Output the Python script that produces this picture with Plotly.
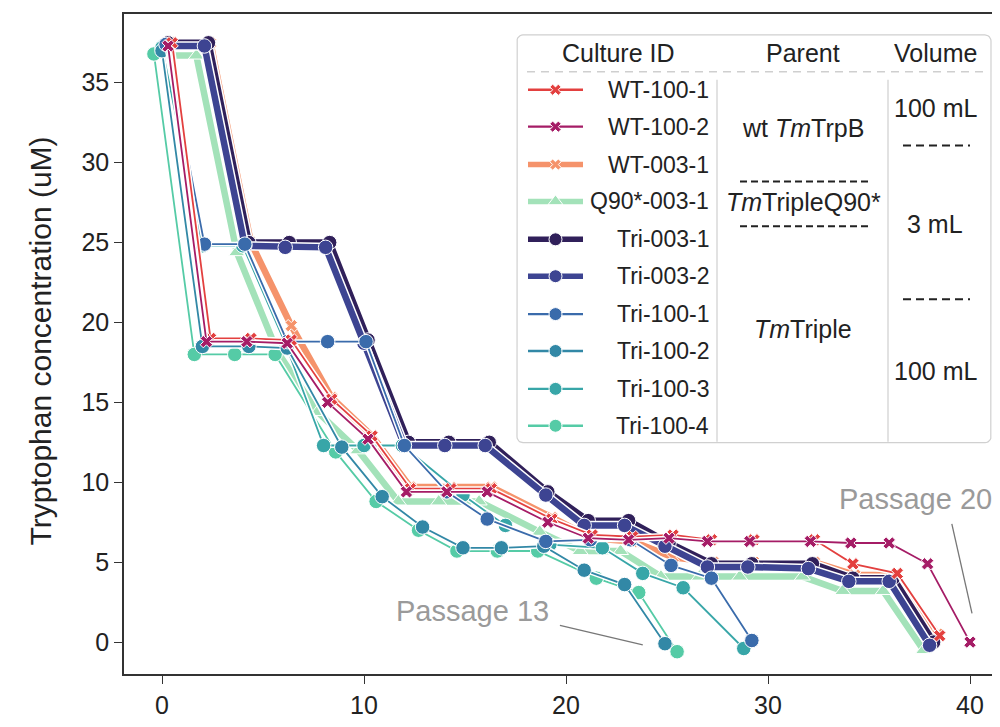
import math
import plotly.graph_objects as go

# ---------------- data ----------------
series_names = ["WT-100-1", "WT-100-2", "WT-003-1", "Q90*-003-1", "Tri-003-1",
                "Tri-003-2", "Tri-100-1", "Tri-100-2", "Tri-100-3", "Tri-100-4"]

wt_100_1_x = [0.5, 2.4, 4.4, 6.4, 8.4, 10.4, 12.3, 14.3, 16.3, 19.3, 21.3, 23.3, 25.3, 27.2, 29.3, 32.3, 34.2, 36.4, 38.5]
wt_100_1_y = [37.5, 19.0, 19.0, 18.9, 15.2, 12.9, 9.6, 9.6, 9.6, 7.7, 6.7, 6.6, 6.7, 6.4, 6.4, 6.4, 4.9, 4.3, 0.4]

wt_100_2_x = [0.3, 2.2, 4.2, 6.2, 8.2, 10.2, 12.1, 14.1, 16.1, 19.1, 21.1, 23.1, 25.1, 27.0, 29.1, 32.1, 34.1, 36.0, 37.9, 40.0]
wt_100_2_y = [37.3, 18.8, 18.8, 18.7, 15.0, 12.7, 9.4, 9.4, 9.4, 7.5, 6.5, 6.4, 6.5, 6.3, 6.3, 6.3, 6.2, 6.2, 4.9, 0.0]

wt_003_1_x = [0.4, 2.4, 4.4, 6.4, 8.4, 10.4, 12.3, 14.3, 16.3, 19.3, 21.3, 23.3, 25.3, 27.3, 29.3, 32.3, 34.3, 36.3, 38.4]
wt_003_1_y = [37.5, 37.5, 25.0, 19.8, 15.3, 12.9, 9.7, 9.7, 9.7, 7.8, 6.5, 6.3, 5.3, 5.0, 5.0, 5.0, 4.2, 4.2, 0.5]

q90_003_1_x = [-0.3, 1.7, 3.7, 5.7, 7.7, 9.7, 11.7, 13.7, 15.7, 18.7, 20.7, 22.7, 24.7, 26.6, 28.6, 31.7, 33.7, 35.7, 37.7]
q90_003_1_y = [36.7, 36.7, 24.4, 18.2, 14.4, 12.0, 8.8, 8.8, 8.8, 6.9, 5.7, 5.7, 4.1, 4.1, 4.1, 4.1, 3.2, 3.2, -0.5]

tri_003_1_x = [0.3, 2.3, 4.3, 6.3, 8.3, 10.2, 12.2, 14.2, 16.2, 19.1, 21.1, 23.1, 25.1, 27.2, 29.2, 32.2, 34.2, 36.2, 38.2]
tri_003_1_y = [37.5, 37.5, 25.0, 25.0, 25.0, 18.9, 12.5, 12.5, 12.5, 9.4, 7.6, 7.6, 6.2, 4.9, 4.9, 4.9, 4.0, 4.0, 0.0]

tri_003_2_x = [0.1, 2.1, 4.1, 6.1, 8.1, 10.0, 12.0, 14.0, 16.0, 19.0, 20.9, 22.9, 24.9, 27.0, 29.0, 32.0, 34.0, 36.0, 38.0]
tri_003_2_y = [37.3, 37.3, 24.8, 24.7, 24.7, 18.7, 12.3, 12.3, 12.3, 9.2, 7.3, 7.3, 6.0, 4.7, 4.7, 4.6, 3.8, 3.8, -0.2]

tri_100_1_x = [0.2, 2.1, 4.1, 6.2, 8.2, 10.1, 12.0, 14.1, 16.1, 19.0, 21.2, 23.2, 25.2, 27.2, 29.2]
tri_100_1_y = [37.4, 24.9, 24.9, 18.8, 18.8, 18.8, 12.3, 9.4, 7.7, 6.3, 6.4, 6.4, 4.8, 4.0, 0.1]

tri_100_2_x = [0.0, 2.0, 4.3, 6.2, 8.9, 10.9, 12.9, 14.9, 16.8, 18.9, 20.9, 22.9, 24.9]
tri_100_2_y = [37.0, 18.5, 18.5, 18.4, 12.2, 9.1, 7.2, 5.9, 5.9, 6.0, 4.5, 3.6, -0.1]

tri_100_3_x = [0.0, 2.0, 4.0, 6.1, 8.0, 10.0, 11.9, 14.9, 17.0, 19.2, 21.8, 23.8, 25.8, 28.8]
tri_100_3_y = [37.2, 24.8, 24.8, 18.7, 12.3, 12.3, 12.3, 9.2, 7.3, 6.1, 5.9, 4.3, 3.4, -0.4]

tri_100_4_x = [-0.4, 1.6, 3.6, 5.6, 8.6, 10.6, 12.7, 14.6, 16.6, 18.6, 21.5, 23.6, 25.5]
tri_100_4_y = [36.8, 18.0, 18.0, 18.0, 11.9, 8.8, 7.0, 5.7, 5.7, 5.7, 4.0, 3.1, -0.6]

x_ticks = [0, 10, 20, 30, 40]
y_ticks = [0, 5, 10, 15, 20, 25, 30, 35]

parent_labels = ["wt <i>Tm</i>TrpB", "<i>Tm</i>TripleQ90*", "<i>Tm</i>Triple"]
volume_labels = ["100 mL", "3 mL", "100 mL"]
header_labels = ["Culture ID", "Parent", "Volume"]

# ---------------- styles ----------------
colors = {
    "WT-100-1": "#e3403f", "WT-100-2": "#a51c66", "WT-003-1": "#f5936b",
    "Q90*-003-1": "#a3e2b9", "Tri-003-1": "#30205a", "Tri-003-2": "#3d4492",
    "Tri-100-1": "#3a6bab", "Tri-100-2": "#3288a6", "Tri-100-3": "#38a6a8",
    "Tri-100-4": "#55cba6",
}
symbols = {"WT-100-1": "x", "WT-100-2": "x", "WT-003-1": "x", "Q90*-003-1": "triangle-up"}
thick = {"WT-003-1", "Q90*-003-1", "Tri-003-1", "Tri-003-2"}

data = {
    "WT-100-1": (wt_100_1_x, wt_100_1_y), "WT-100-2": (wt_100_2_x, wt_100_2_y),
    "WT-003-1": (wt_003_1_x, wt_003_1_y), "Q90*-003-1": (q90_003_1_x, q90_003_1_y),
    "Tri-003-1": (tri_003_1_x, tri_003_1_y), "Tri-003-2": (tri_003_2_x, tri_003_2_y),
    "Tri-100-1": (tri_100_1_x, tri_100_1_y), "Tri-100-2": (tri_100_2_x, tri_100_2_y),
    "Tri-100-3": (tri_100_3_x, tri_100_3_y), "Tri-100-4": (tri_100_4_x, tri_100_4_y),
}
draw_order = ["Q90*-003-1", "WT-003-1", "Tri-003-1", "Tri-003-2",
              "Tri-100-4", "Tri-100-3", "Tri-100-2", "Tri-100-1", "WT-100-1", "WT-100-2"]

FONT = "Liberation Sans, Arial, Helvetica, sans-serif"
OFF = 8  # page body margin
# plot area in reference-pixel coordinates
PX0, PX1, PY0, PY1 = 124, 1000, 14, 676
W, H = 1000 - OFF, 727 - 2 * OFF
L, T = PX0 - OFF, PY0 - OFF
R = W - (PX1 - OFF)
B = H - (PY1 - OFF)

fig = go.Figure()

for name in draw_order:
    xs, ys = data[name]
    is_thick = name in thick
    lw = 6.5 if is_thick else 1.8
    sym = symbols.get(name, "circle")
    msize = {"x": 11, "triangle-up": 14, "circle": 14.5}[sym]
    fig.add_trace(go.Scatter(x=xs, y=ys, mode="lines", showlegend=False, hoverinfo="skip",
                             line=dict(color="white", width=lw + 3)))
    fig.add_trace(go.Scatter(x=xs, y=ys, mode="lines+markers", name=name, showlegend=False,
                             line=dict(color=colors[name], width=lw),
                             marker=dict(symbol=sym, size=msize, color=colors[name],
                                         line=dict(color="white", width=1))))

# ---------------- custom legend table (pixel axes x2/y2) ----------------
bx0, bx1, by0, by1, rad = 517, 991, 35, 444, 6
pts_x, pts_y = [], []
corners = [(bx1 - rad, by0 + rad, -90, 0), (bx1 - rad, by1 - rad, 0, 90),
           (bx0 + rad, by1 - rad, 90, 180), (bx0 + rad, by0 + rad, 180, 270)]
for cx, cy, a0, a1 in corners:
    for k in range(7):
        a = math.radians(a0 + (a1 - a0) * k / 6)
        pts_x.append(cx + rad * math.cos(a))
        pts_y.append(cy + rad * math.sin(a))
pts_x.append(pts_x[0]); pts_y.append(pts_y[0])
fig.add_trace(go.Scatter(x=pts_x, y=pts_y, xaxis="x2", yaxis="y2", mode="lines", fill="toself",
                         fillcolor="rgba(255,255,255,0.92)", line=dict(color="#d0d0d0", width=1.2),
                         showlegend=False, hoverinfo="skip"))

row_y = [90, 127, 165, 202, 240, 277, 315, 352, 390, 427]
for name, ry in zip(series_names, row_y):
    is_thick = name in thick
    sym = symbols.get(name, "circle")
    fig.add_trace(go.Scatter(x=[528, 583], y=[ry, ry], xaxis="x2", yaxis="y2", mode="lines",
                             line=dict(color=colors[name], width=5.5 if is_thick else 2.4),
                             showlegend=False, hoverinfo="skip"))
    fig.add_trace(go.Scatter(x=[555.5], y=[ry], xaxis="x2", yaxis="y2", mode="markers",
                             marker=dict(symbol=sym, size={"x": 10, "triangle-up": 13, "circle": 13}[sym],
                                         color=colors[name], line=dict(color="white", width=1)),
                             showlegend=False, hoverinfo="skip"))

shapes = []
def pline(x0, y0, x1, y1, color, width, dash="solid"):
    shapes.append(dict(type="line", xref="x2", yref="y2", x0=x0, y0=y0, x1=x1, y1=y1,
                       line=dict(color=color, width=width, dash=dash), layer="above"))

pline(527, 72, 983, 72, "#cfcfcf", 1.5, "8px,6px")
pline(717, 80, 717, 443, "#cfcfcf", 1.2)
pline(888, 80, 888, 443, "#cfcfcf", 1.2)
pline(740, 182, 872, 182, "#222222", 2, "7px,4px")
pline(740, 227, 872, 227, "#222222", 2, "7px,4px")
pline(903, 146, 970, 146, "#222222", 2, "8px,5px")
pline(903, 300, 970, 300, "#222222", 2, "8px,5px")

# passage pointer lines (data coordinates)
shapes.append(dict(type="line", xref="x", yref="y", x0=19.7, y0=1.05, x1=23.8, y1=-0.18,
                   line=dict(color="#777777", width=1.3)))
shapes.append(dict(type="line", xref="x", yref="y", x0=39.1, y0=7.4, x1=40.1, y1=1.8,
                   line=dict(color="#777777", width=1.3)))

annotations = []
def ptext(x, y, text, size=23, xanchor="center", color="#222222"):
    annotations.append(dict(x=x, y=y, xref="x2", yref="y2", text=text, showarrow=False,
                            xanchor=xanchor, yanchor="middle",
                            font=dict(family=FONT, size=size, color=color)))

for lab, hx in zip(header_labels, [618, 803, 935]):
    ptext(hx, 53, lab, size=25)
for name, ry in zip(series_names, row_y):
    ptext(711, ry, name, size=23, xanchor="right")
for lab, py in zip(parent_labels, [128, 203, 330]):
    ptext(803, py, lab, size=25)
for lab, py in zip(volume_labels, [108, 225, 372]):
    ptext(935, py, lab, size=25)

annotations.append(dict(x=15.35, y=1.93, xref="x", yref="y", text="Passage 13", showarrow=False,
                        font=dict(family=FONT, size=29, color="#9a9a9a")))
annotations.append(dict(x=37.28, y=8.98, xref="x", yref="y", text="Passage 20", showarrow=False,
                        font=dict(family=FONT, size=29, color="#9a9a9a")))
annotations.append(dict(x=(22 - PX0) / (PX1 - PX0), y=(PY1 - 342) / (PY1 - PY0), xref="paper", yref="paper",
                        text="Tryptophan concentration (uM)", textangle=-90, showarrow=False,
                        font=dict(family=FONT, size=30, color="#222222")))

x0v = -(162 - PX0) / 20.2
x1v = x0v + (PX1 - PX0) / 20.2
y0v = -(PY1 - 644) / 16.03
y1v = y0v + (PY1 - PY0) / 16.03

fig.update_layout(
    width=W, height=H, margin=dict(l=L, r=R, t=T, b=B, pad=0),
    paper_bgcolor="white", plot_bgcolor="white",
    font=dict(family=FONT, size=25, color="#222222"),
    showlegend=False,
    xaxis=dict(range=[x0v, x1v], tickvals=x_ticks, ticks="outside", ticklen=8, tickwidth=1.3,
               tickcolor="#333", showline=True, linecolor="#333", linewidth=1.5, mirror=True,
               showgrid=False, zeroline=False, tickfont=dict(size=25)),
    yaxis=dict(range=[y0v, y1v], tickvals=y_ticks, ticks="outside", ticklen=8, tickwidth=1.3,
               tickcolor="#333", showline=True, linecolor="#333", linewidth=1.5, mirror=False,
               showgrid=False, zeroline=False, tickfont=dict(size=25)),
    xaxis2=dict(range=[PX0, PX1], overlaying="x", visible=False, domain=[0, 1]),
    yaxis2=dict(range=[PY1, PY0], overlaying="y", visible=False, domain=[0, 1]),
    shapes=shapes, annotations=annotations,
)

fig.write_html("out.html")
